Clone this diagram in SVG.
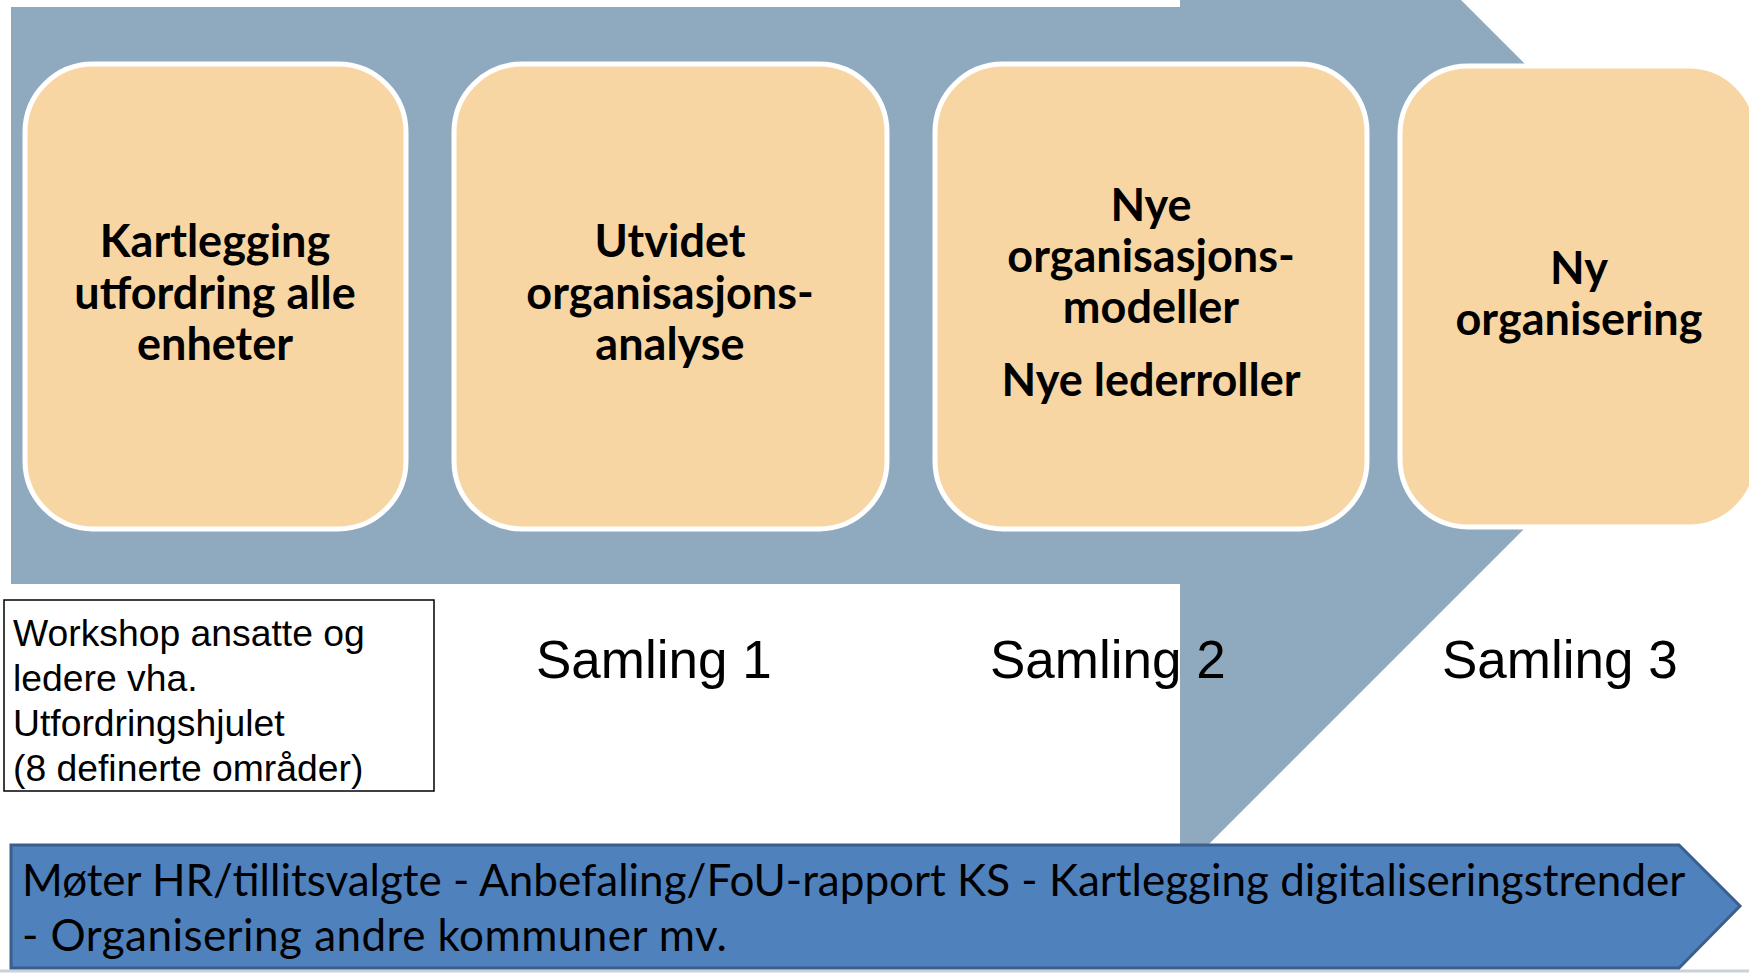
<svg xmlns="http://www.w3.org/2000/svg" width="1749" height="973" viewBox="0 0 1749 973">
<style>
.box{fill:#F8D6A4;stroke:#FFFFFF;stroke-width:5}
.bt{font-family:Lato,"Liberation Sans",sans-serif;font-weight:bold;font-size:45px;fill:#000;text-anchor:middle}
.sam{font-family:"Liberation Sans",Arial,sans-serif;font-size:53px;fill:#000}
.ws{font-family:"Liberation Sans",Arial,sans-serif;font-size:37.3px;fill:#000}
.bar{font-family:Lato,"Liberation Sans",sans-serif;font-size:44px;fill:#000}
</style>
<rect x="0" y="0" width="1749" height="973" fill="#FFFFFF"/>
<line x1="0" y1="971" x2="1749" y2="971" stroke="#C9D1DB" stroke-width="3"/>
<g id="process-arrow">
<polygon points="11,7 1180,7 1180,-281 1757,296 1180,873 1180,584 11,584" fill="#8FAABF"/>
</g>
<g id="node1">
<rect class="box" x="25" y="64" width="381" height="465" rx="68"/>
<text class="bt" x="215" y="257">Kartlegging</text>
<text class="bt" x="215" y="309">utfordring alle</text>
<text class="bt" x="215" y="360">enheter</text>
</g>
<g id="node2">
<rect class="box" x="454" y="64" width="433" height="465" rx="68"/>
<text class="bt" x="670" y="257">Utvidet</text>
<text class="bt" x="670" y="309">organisasjons-</text>
<text class="bt" x="670" y="360">analyse</text>
</g>
<g id="node3">
<rect class="box" x="935" y="64" width="432" height="465" rx="68"/>
<text class="bt" x="1151" y="221">Nye</text>
<text class="bt" x="1151" y="272">organisasjons-</text>
<text class="bt" x="1151" y="323">modeller</text>
<text class="bt" x="1151" y="396">Nye lederroller</text>
</g>
<g id="node4">
<rect class="box" x="1400" y="66" width="357" height="461" rx="68"/>
<text class="bt" x="1579" y="284">Ny</text>
<text class="bt" x="1579" y="335">organisering</text>
</g>
<g id="workshop">
<rect x="4" y="600" width="430" height="191" fill="#FFFFFF" stroke="#000" stroke-width="1.5"/>
<text class="ws" x="13" y="646">Workshop ansatte og</text>
<text class="ws" x="13" y="691">ledere vha.</text>
<text class="ws" x="13" y="736">Utfordringshjulet</text>
<text class="ws" x="13" y="781">(8 definerte områder)</text>
</g>
<g id="samlinger">
<text class="sam" x="536" y="678">Samling 1</text>
<text class="sam" x="990" y="678">Samling 2</text>
<text class="sam" x="1442" y="678">Samling 3</text>
</g>
<g id="bottom-bar">
<polygon points="11,845 1679,845 1740,906 1679,968 11,968" fill="#4F81BD" stroke="#3A5F8C" stroke-width="3"/>
<text class="bar" x="22" y="896">Møter HR/tillitsvalgte - Anbefaling/FoU-rapport KS - Kartlegging digitaliseringstrender</text>
<text class="bar" x="22" y="951" textLength="705" lengthAdjust="spacing">- Organisering andre kommuner mv.</text>
</g>
<g id="connectors"></g>
</svg>
